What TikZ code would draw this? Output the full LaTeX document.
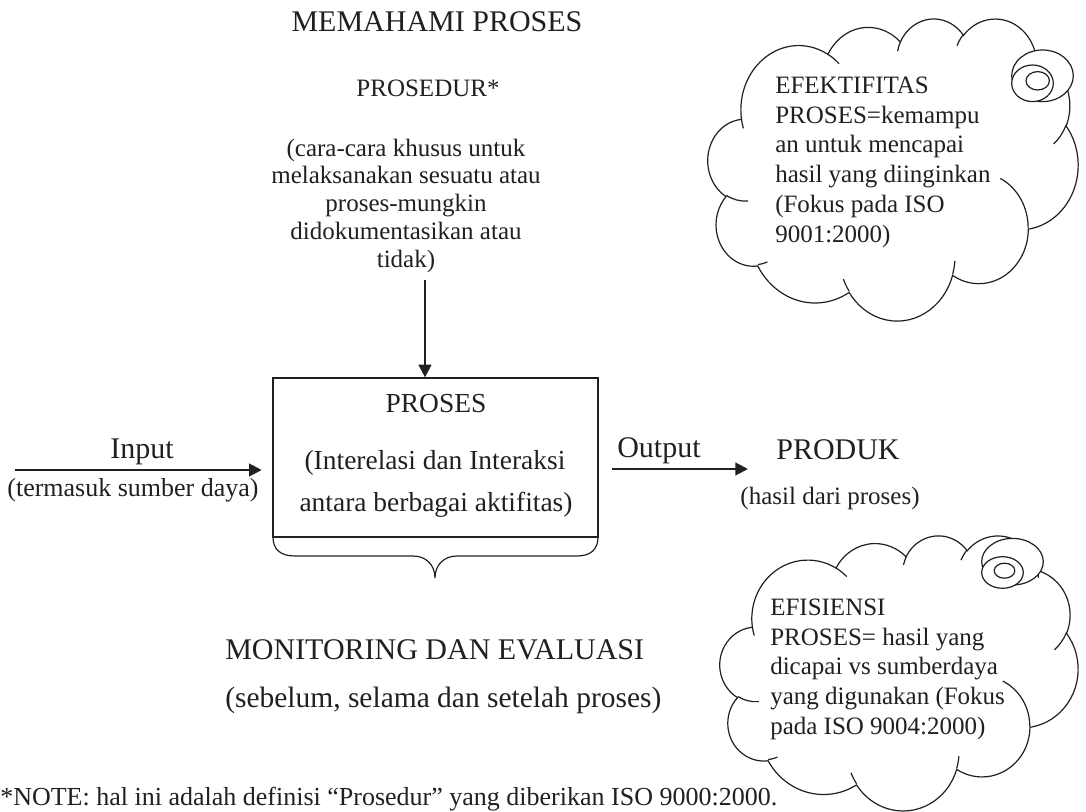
\documentclass[tikz,border=0pt]{standalone}
\usepackage{fontspec}
\setmainfont{Liberation Serif}
\usetikzlibrary{arrows.meta,positioning}

\definecolor{ink}{RGB}{35,31,32}
\newcommand{\fsTitle}{\fontsize{22.5}{27}\selectfont}
\newcommand{\fsSub}{\fontsize{22.1}{27}\selectfont}
\newcommand{\fsBox}{\fontsize{20.6}{25}\selectfont}
\newcommand{\fsDesc}{\fontsize{18.75}{20.8}\selectfont}
\newcommand{\fsCloud}{\fontsize{18.75}{22.35}\selectfont}
\newcommand{\fsNote}{\fontsize{19.5}{23}\selectfont}

\tikzset{
  lbl/.style={inner sep=0pt, text=ink},
  line/.style={draw=ink, line width=0.9pt},
  flow/.style={draw=ink, line width=1.6pt, -{Triangle[length=9.5pt,width=9.5pt]}},
}

% cloud outline and its inner strokes, in a 432 x 432 box
\newcommand{\cloudshape}{%
  \draw[line, fill=white] (39,143.7)
    \foreach \rx/\ry/\sa/\da in {67.53/91.90/-190.487/123.781,
      53.33/72.67/-144.102/89.945, 43.65/59.45/-145.808/99.723,
      48.57/65.95/-130.986/117.242, 53.33/72.73/-78.709/109.027,
      67.75/92.20/-46.267/130.269, 57.85/78.67/0.625/114.033,
      67.52/92.15/22.452/115.173, 77.20/105.43/66.243/75.711,
      43.60/59.18/-274.942/146.736, 43.45/59.45/-246.829/152.519}
    {arc[start angle={atan2(\rx*sin(\sa),\ry*cos(\sa))},
         delta angle={mod(atan2(\rx*sin(\sa+\da),\ry*cos(\sa+\da))-atan2(\rx*sin(\sa),\ry*cos(\sa))+720,360)},
         x radius=\rx, y radius=\ry]} -- cycle;
  \draw[line]
    \foreach \hx/\hy/\rx/\ry/\sa/\da in {46.93/261.77/43.45/59.45/86.742/26.43,
      69.28/348.99/43.60/59.18/73.61/11.448, 164.78/390.90/67.52/92.15/137.624/14.081,
      288.27/347.51/67.52/92.15/6.453/15.998, 341.29/229.54/57.85/78.67/-70.292/70.917,
      417.98/153.54/53.33/72.73/30.318/27.752, 383.24/54.26/48.57/65.95/-13.744/14.859,
      290.78/39.52/48.57/65.95/-149.182/18.195, 221.41/47.20/43.65/59.45/-163.494/17.686,
      140.00/51.92/67.53/91.90/-66.707/12.319, 41.27/157.89/67.53/91.90/157.654/11.858}
    {(\hx,\hy) arc[start angle={atan2(\rx*sin(\sa),\ry*cos(\sa))},
         delta angle={mod(atan2(\rx*sin(\sa+\da),\ry*cos(\sa+\da))-atan2(\rx*sin(\sa),\ry*cos(\sa))+720,360)},
         x radius=\rx, y radius=\ry]};
}

\begin{document}
\begin{tikzpicture}[x=0.75pt,y=0.75pt,yscale=-1,xscale=1]
	\useasboundingbox (0,0) rectangle (1086,812);

	% top texts
	\node[lbl, font=\fsTitle, anchor=base] (judul) at (437,32) {MEMAHAMI PROSES};
	\node[lbl, font=\fsDesc, anchor=base] (prosedur) at (428,97) {PROSEDUR*};
	\node[lbl, font=\fsDesc, align=center, anchor=north] (cara) at (406,138.5)
		{(cara-cara khusus untuk\\ melaksanakan sesuatu atau\\ proses-mungkin\\ didokumentasikan atau\\ tidak)};

	% process box
	\node[line, minimum width=243.75pt, minimum height=119.25pt] (proses) at (435.5,457.5) {};
	\node[lbl, font=\fsBox, anchor=base] (judulproses) at (436,413) {PROSES};
	\node[lbl, font=\fsBox, anchor=base] (inter1) at (435,470) {(Interelasi dan Interaksi};
	\node[lbl, font=\fsBox, anchor=base] (inter2) at (436,512) {antara berbagai aktifitas)};
	\draw[line] (273,537) .. controls (273,550) and (281,556) .. (295,556) -- (413,556) .. controls (426,556) and (435,565) .. (435,578) .. controls (435,565) and (444,556) .. (457,556) -- (577,556) .. controls (590,556) and (598,550) .. (598,537) ;

	% arrows
	\coordinate (ptop) at (425,280);
	\coordinate (inL) at (15,470);
	\coordinate (outR) at (748,469);
	\draw[flow] (ptop) -- (ptop |- proses.north);
	\draw[flow, shorten >=8pt] (inL) -- (inL -| proses.west);
	\draw[flow, shorten <=10pt] (outR -| proses.east) -- (outR);

	\node[lbl, font=\fsTitle, anchor=base] (input) at (142,459) {Input};
	\node[lbl, font=\fsNote, anchor=base] (sumber) at (133,497) {(termasuk sumber daya)};
	\node[lbl, font=\fsTitle, anchor=base] (output) at (659,458) {Output};
	\node[lbl, font=\fsTitle, anchor=base] (produk) at (838,460) {PRODUK};
	\node[lbl, font=\fsDesc, anchor=base] (hasil) at (830,505) {(hasil dari proses)};

	% monitoring and note
	\node[lbl, font=\fsTitle, anchor=base west] (monev) at (225,660) {MONITORING DAN EVALUASI};
	\node[lbl, font=\fsSub, anchor=base west] (waktu) at (225,707) {(sebelum, selama dan setelah proses)};
	\node[lbl, font=\fsNote, anchor=base west] (catatan) at (0,805) {*NOTE: hal ini adalah definisi “Prosedur” yang diberikan ISO 9000:2000.};

	% clouds
	\begin{scope}[shift={(708,18)}, xscale=370/432, yscale=302/432]
		\cloudshape
	\end{scope}
	\draw[line, fill=white] (1042.5,75.8) ellipse [x radius=30.8, y radius=25.8];
	\draw[line, fill=white] (1032.5,83.3) ellipse [x radius=20.8, y radius=18.3];
	\draw[line, fill=white] (1037.7,80.8) ellipse [x radius=11.7, y radius=9.2];
	\node[lbl, font=\fsCloud, align=left, anchor=north west] (efektif) at (775,76.5)
		{EFEKTIFITAS\\ PROSES=kemampu\\ an untuk mencapai\\ hasil yang diinginkan\\ (Fokus pada ISO\\ 9001:2000)};

	\begin{scope}[shift={(720,535)}, xscale=358/432, yscale=275/432]
		\cloudshape
	\end{scope}
	\draw[line, fill=white] (1012.5,561.7) ellipse [x radius=30.8, y radius=23.3];
	\draw[line, fill=white] (1002.5,572.5) ellipse [x radius=20.8, y radius=15.8];
	\draw[line, fill=white] (1004.5,570.7) ellipse [x radius=10.3, y radius=7.5];
	\node[lbl, font=\fsCloud, align=left, anchor=north west] (efisien) at (770,598.5)
		{EFISIENSI\\ PROSES= hasil yang\\ dicapai vs sumberdaya\\ yang digunakan (Fokus\\ pada ISO 9004:2000)};
\end{tikzpicture}
\end{document}
